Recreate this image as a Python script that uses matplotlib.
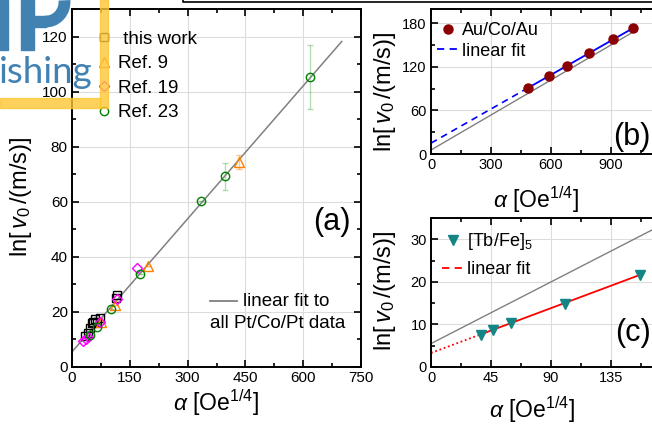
import matplotlib
matplotlib.use("Agg")
import matplotlib.pyplot as plt
from matplotlib.ticker import MultipleLocator
from matplotlib.patches import Rectangle, Arc
from matplotlib.lines import Line2D
import numpy as np

plt.rcParams['font.family'] = ['Liberation Sans', 'DejaVu Sans']
plt.rcParams['mathtext.fontset'] = 'custom'
plt.rcParams['mathtext.rm'] = 'Liberation Sans'
plt.rcParams['mathtext.it'] = 'Liberation Sans:italic'
plt.rcParams['mathtext.bf'] = 'Liberation Sans:bold'

# ---------------- data ----------------
# panel (a): Pt/Co/Pt
tw_x = [33, 42, 47, 51, 55, 60, 65, 72, 113, 116]
tw_y = [11.3, 12.5, 14.0, 16.0, 16.5, 17.3, 16.2, 17.7, 25.0, 26.2]
r9_x = [75, 111, 197, 434]
r9_y = [16.5, 22.5, 36.5, 74.5]
r9_err = [0, 0, 0, 2.5]
r19_x = [28, 36, 42, 72, 117, 169]
r19_y = [9.6, 10.2, 11.0, 16.5, 24.6, 36.0]
r23_x = [46, 64, 101, 176, 336, 396, 618]
r23_y = [11.6, 14.4, 21.0, 33.8, 60.1, 69.2, 105.3]
r23_err = [0, 0, 0, 0, 0, 5, 11.5]
pt_fit_intercept = 5.5
pt_fit_slope = 0.161

# panel (b): Au/Co/Au
au_x = [483, 590, 680, 788, 912, 1012]
au_y = [90.5, 107.5, 121.4, 139.2, 158.3, 173.6]
au_err = [4, 4, 4, 4, 5, 4]
au_fit_intercept = 15.0
au_fit_slope = 0.157

# panel (c): [Tb/Fe]5
tb_x = [37.3, 46.8, 60.3, 100.8, 157]
tb_y = [7.4, 8.8, 10.4, 14.9, 21.5]
tb_fit_intercept = 3.3
tb_fit_slope = 0.117

labels_a = [' this work', 'Ref. 9', 'Ref. 19', 'Ref. 23']

W, H = 652, 428
fig = plt.figure(figsize=(W / 100, H / 100), dpi=100)


def fx(x):
    return x / W


def fy(y):
    return 1 - y / H


def make_axes(l, r, t, b):
    return fig.add_axes([fx(l), fy(b), (r - l) / W, (b - t) / H])


ax_a = make_axes(72, 361, 9, 367)
ax_b = make_axes(431, 671, 9, 154)
ax_c = make_axes(431, 671, 218, 367)

ylab = r'ln[$\,v_{\mathit{0}}\,$/(m/s)]'
xlab = r'$\alpha$ [Oe$^{1/4}$]'
YL_FS = 17
XL_FS = 16.5
LEG_FS = 13.5


def style(ax, xmaj, ymaj, fs):
    ax.xaxis.set_major_locator(MultipleLocator(xmaj))
    ax.xaxis.set_minor_locator(MultipleLocator(xmaj / 2))
    ax.yaxis.set_major_locator(MultipleLocator(ymaj))
    ax.yaxis.set_minor_locator(MultipleLocator(ymaj / 2))
    ax.tick_params(which='both', direction='in', top=True, right=True,
                   width=1.2, labelsize=fs, pad=3)
    ax.tick_params(which='major', length=5)
    ax.tick_params(which='minor', length=3)
    for s in ax.spines.values():
        s.set_linewidth(1.4)
    ax.grid(True, which='major', color='#dcdcdc', lw=0.8)
    ax.set_axisbelow(True)


# ---------------- panel (a) ----------------
ax = ax_a
style(ax, 150, 20, 11)
ax.set_xlim(0, 750)
ax.set_ylim(0, 130)
xf = np.array([0, 700])
ax.plot(xf, pt_fit_intercept + pt_fit_slope * xf, color='#808080', lw=1.1, zorder=2)
ms = 6
h1, = ax.plot(tw_x, tw_y, 's', ms=ms, mfc='none', mec='black', mew=1.0, ls='none', zorder=3)
ax.errorbar(r9_x, r9_y, yerr=r9_err, fmt='none', ecolor='#ff8c1a', alpha=0.5, capsize=2, lw=1)
h2, = ax.plot(r9_x, r9_y, '^', ms=ms + 1, mfc='none', mec='#ff8000', mew=1.0, ls='none', zorder=3)
h3, = ax.plot(r19_x, r19_y, 'D', ms=ms - 0.5, mfc='none', mec='#ff00ff', mew=1.0, ls='none', zorder=3)
ax.errorbar(r23_x, r23_y, yerr=r23_err, fmt='none', ecolor='#44aa44', alpha=0.4, capsize=2, lw=1)
h4, = ax.plot(r23_x, r23_y, 'o', ms=ms, mfc='none', mec='#008000', mew=1.0, ls='none', zorder=3)
ax.legend([h1, h2, h3, h4], labels_a, loc='upper left', bbox_to_anchor=(0.078, 0.939),
          frameon=False, fontsize=LEG_FS, handlelength=1.0, handletextpad=0.25,
          borderpad=0, borderaxespad=0, labelspacing=0.39)
ax.set_ylabel(ylab, fontsize=YL_FS)
ax.set_xlabel(xlab, fontsize=XL_FS)
ax.yaxis.set_label_coords((34 - 72) / 289, 0.475)
ax.xaxis.set_label_coords(0.5, -0.058)
ax.text((331.7 - 72) / 289, (367 - 222.5) / 358, '(a)', fontsize=22,
        ha='center', va='center', transform=ax.transAxes)
# fit annotation
ax.plot([(210 - 72) / 289, (237 - 72) / 289], [(367 - 301) / 358] * 2,
        color='#808080', lw=1.3, transform=ax.transAxes)
ax.text((243 - 72) / 289, (367 - 301) / 358, 'linear fit to', fontsize=LEG_FS,
        ha='left', va='center', transform=ax.transAxes)
ax.text((210 - 72) / 289, (367 - 323) / 358, 'all Pt/Co/Pt data', fontsize=LEG_FS,
        ha='left', va='center', transform=ax.transAxes)

# ---------------- panel (b) ----------------
ax = ax_b
style(ax, 300, 60, 10.5)
ax.set_xlim(0, 1200)
ax.set_ylim(0, 200)
xg = np.array([0, 1012])
ax.plot(xg, pt_fit_intercept + pt_fit_slope * xg, color='#808080', lw=1.0, zorder=2)
xd = np.array([0, au_x[0]])
ax.plot(xd, au_fit_intercept + au_fit_slope * xd, color='#0000ff', lw=1.2, ls=(0, (4, 3)), zorder=2)
xs = np.array([au_x[0], au_x[-1]])
ax.plot(xs, au_fit_intercept + au_fit_slope * xs, color='#0000ff', lw=1.3, zorder=2)
ax.errorbar(au_x, au_y, yerr=au_err, fmt='none', ecolor='#a03030', capsize=2, lw=0.9, zorder=3)
hb1, = ax.plot(au_x, au_y, 'o', ms=6.5, color='#8b0000', ls='none', zorder=4)
hb2 = Line2D([], [], color='#0000ff', lw=1.3, ls=(0, (4, 3)))
ax.legend([hb1, hb2], ['Au/Co/Au', 'linear fit'], loc='upper left',
          bbox_to_anchor=(0.025, 0.91), frameon=False, fontsize=13,
          handlelength=1.2, handletextpad=0.18, borderpad=0, borderaxespad=0,
          labelspacing=0.2)
ax.set_ylabel(ylab, fontsize=YL_FS)
ax.set_xlabel(xlab, fontsize=XL_FS)
ax.yaxis.set_label_coords((398 - 431) / 240, 0.43)
ax.xaxis.set_label_coords((536 - 431) / 240, -0.21)
ax.text((613 - 431) / 240, (154 - 137.5) / 145, '(b)', fontsize=22,
        ha='left', va='center', transform=ax.transAxes)

# ---------------- panel (c) ----------------
ax = ax_c
style(ax, 45, 10, 10.5)
ax.set_xlim(0, 180)
ax.set_ylim(0, 35)
xg = np.array([0, 180])
ax.plot(xg, pt_fit_intercept + pt_fit_slope * xg, color='#808080', lw=1.0, zorder=2)
xd = np.array([0, tb_x[0]])
ax.plot(xd, tb_fit_intercept + tb_fit_slope * xd, color='#ff0000', lw=1.3, ls=(0, (1, 1.5)), zorder=2)
xs = np.array([tb_x[0], tb_x[-1]])
ax.plot(xs, tb_fit_intercept + tb_fit_slope * xs, color='#ff0000', lw=1.3, zorder=2)
hc1, = ax.plot(tb_x, tb_y, 'v', ms=7, color='#138585', ls='none', zorder=4)
hc2 = Line2D([], [], color='#ff0000', lw=1.3, ls=(0, (4, 3)))
ax.legend([hc1, hc2], ['[Tb/Fe]$_5$', 'linear fit'], loc='upper left',
          bbox_to_anchor=(0.045, 0.913), frameon=False, fontsize=13,
          handlelength=1.2, handletextpad=0.2, borderpad=0, borderaxespad=0,
          labelspacing=0.5)
ax.set_ylabel(ylab, fontsize=YL_FS)
ax.set_xlabel(xlab, fontsize=XL_FS)
ax.yaxis.set_label_coords((398 - 431) / 240, 0.51)
ax.xaxis.set_label_coords((532 - 431) / 240, -0.185)
ax.text((615 - 431) / 240, (367 - 332.5) / 149, '(c)', fontsize=22,
        ha='left', va='center', transform=ax.transAxes)

# ---------------- cropped logo / frame decorations ----------------
blue = '#4282b3'
yellow = '#fdc633'
tf = fig.transFigure
fig.patches.append(Rectangle((fx(0), fy(50)), 8 / W, 50 / H, transform=tf,
                             color=blue, zorder=5))
fig.patches.append(Rectangle((fx(21), fy(50)), 13 / W, 50 / H, transform=tf,
                             color=blue, zorder=5))
fig.patches.append(Rectangle((fx(34), fy(27)), 12 / W, 11 / H, transform=tf,
                             color=blue, zorder=5))
fig.patches.append(Arc((fx(46), fy(2)), 2 * 18.5 / W, 2 * 19.5 / H, theta1=268, theta2=368,
                       transform=tf, color=blue, lw=8.5, zorder=5))
fig.text(fx(-1), fy(83), 'ishing', fontsize=26.5, color=blue, family='Lato',
         ha='left', va='baseline', zorder=6)
fig.patches.append(Rectangle((fx(100), fy(108)), 8 / W, 108 / H, transform=tf,
                             color=yellow, alpha=0.8, zorder=7))
fig.patches.append(Rectangle((fx(0), fy(108)), 100 / W, 10 / H, transform=tf,
                             color=yellow, alpha=0.8, zorder=7))
fig.lines.append(Line2D([fx(183), fx(183), fx(652)], [1.0, fy(2), fy(2)], transform=tf,
                        color='black', lw=1.2, zorder=7))

fig.savefig('out.png', dpi=100)
